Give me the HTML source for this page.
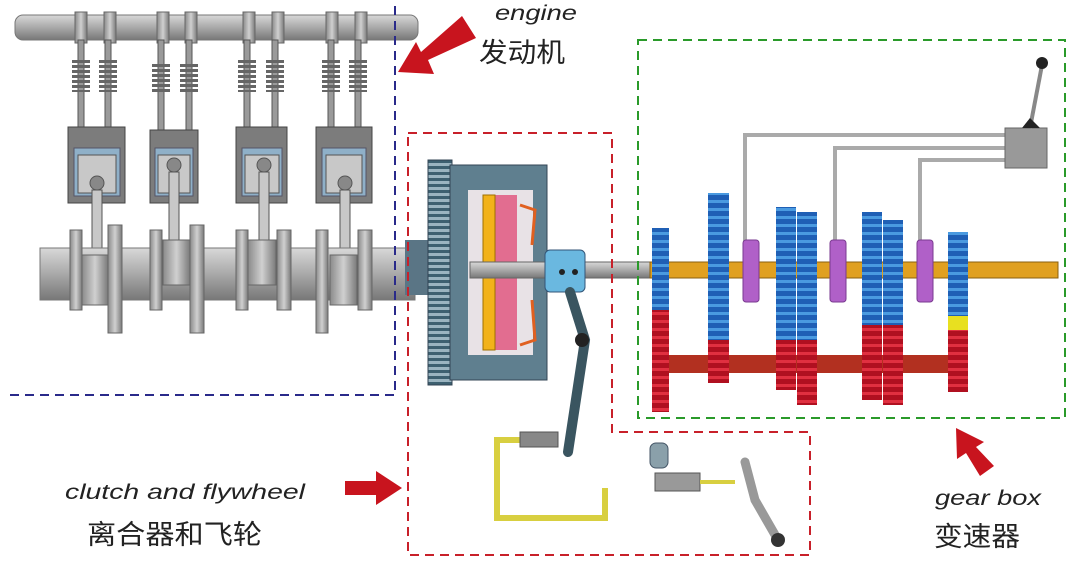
<!DOCTYPE html>
<html><head><meta charset="utf-8"><style>
html,body{margin:0;padding:0;background:#fff;width:1080px;height:572px;overflow:hidden}
svg{display:block}
text{font-family:"Liberation Sans","Noto Sans CJK SC",sans-serif}
</style></head><body>
<svg width="1080" height="572" viewBox="0 0 1080 572" xmlns="http://www.w3.org/2000/svg">
<defs>
<linearGradient id="gy" x1="0" y1="0" x2="0" y2="1"><stop offset="0" stop-color="#d8d8d8"/><stop offset=".5" stop-color="#a9a9a9"/><stop offset="1" stop-color="#777"/></linearGradient>
<linearGradient id="gx" x1="0" y1="0" x2="1" y2="0"><stop offset="0" stop-color="#8a8a8a"/><stop offset=".5" stop-color="#d0d0d0"/><stop offset="1" stop-color="#7a7a7a"/></linearGradient>
<pattern id="bt" width="6" height="8" patternUnits="userSpaceOnUse"><rect width="6" height="8" fill="#1f5fb5"/><rect y="0" width="6" height="3" fill="#4a9ae0"/></pattern>
<pattern id="rt" width="6" height="8" patternUnits="userSpaceOnUse"><rect width="6" height="8" fill="#b01020"/><rect y="0" width="6" height="3" fill="#e03040"/></pattern>
<pattern id="ft" width="6" height="6" patternUnits="userSpaceOnUse"><rect width="6" height="6" fill="#3d6070"/><rect y="1" width="6" height="3" fill="#9ab4c0"/></pattern>
</defs>
<!-- engine -->
<rect x="15" y="15" width="403" height="25" rx="8" fill="url(#gy)" stroke="#777"/>
<g fill="url(#gx)" stroke="#666">
<rect x="75" y="12" width="12" height="31"/><rect x="104" y="12" width="12" height="31"/><rect x="157" y="12" width="12" height="31"/><rect x="185" y="12" width="12" height="31"/>
<rect x="243" y="12" width="12" height="31"/><rect x="272" y="12" width="12" height="31"/><rect x="326" y="12" width="12" height="31"/><rect x="355" y="12" width="12" height="31"/>
</g>
<g fill="#9a9a9a" stroke="#555">
<rect x="78" y="40" width="6" height="90"/><rect x="105" y="40" width="6" height="90"/>
<rect x="158" y="40" width="6" height="90"/><rect x="186" y="40" width="6" height="90"/>
<rect x="244" y="40" width="6" height="90"/><rect x="272" y="40" width="6" height="90"/>
<rect x="328" y="40" width="6" height="90"/><rect x="355" y="40" width="6" height="90"/>
</g>
<g fill="none" stroke="#666" stroke-width="18" stroke-dasharray="3 2">
<path d="M81 60V92M108 60V92M161 64V92M189 64V92M247 60V92M275 60V92M331 60V92M358 60V92"/>
</g>
<g fill="#7c7c7c" stroke="#444">
<rect x="68" y="127" width="57" height="76"/><rect x="150" y="130" width="48" height="73"/><rect x="236" y="127" width="51" height="76"/><rect x="316" y="127" width="56" height="76"/>
</g>
<g fill="#8fb0c8" stroke="#556">
<rect x="74" y="148" width="46" height="48"/><rect x="155" y="148" width="38" height="48"/><rect x="242" y="148" width="40" height="48"/><rect x="322" y="148" width="44" height="48"/>
</g>
<g fill="#c8c8c8" stroke="#555">
<rect x="78" y="155" width="38" height="38"/><rect x="158" y="155" width="32" height="38"/><rect x="245" y="155" width="34" height="38"/><rect x="326" y="155" width="36" height="38"/>
<circle cx="97" cy="183" r="7" fill="#888"/><circle cx="174" cy="165" r="7" fill="#888"/><circle cx="264" cy="165" r="7" fill="#888"/><circle cx="345" cy="183" r="7" fill="#888"/>
<rect x="92" y="190" width="10" height="65"/><rect x="169" y="172" width="10" height="70"/><rect x="259" y="172" width="10" height="70"/><rect x="340" y="190" width="10" height="65"/>
</g>
<rect x="40" y="248" width="375" height="52" fill="url(#gy)" stroke="#777"/>
<g fill="url(#gx)" stroke="#666">
<rect x="70" y="230" width="12" height="80"/><rect x="108" y="225" width="14" height="108"/><rect x="82" y="255" width="26" height="50"/>
<rect x="150" y="230" width="12" height="80"/><rect x="190" y="225" width="14" height="108"/><rect x="163" y="240" width="27" height="45"/>
<rect x="236" y="230" width="12" height="80"/><rect x="277" y="230" width="14" height="80"/><rect x="248" y="240" width="28" height="45"/>
<rect x="316" y="230" width="12" height="103"/><rect x="358" y="230" width="14" height="80"/><rect x="330" y="255" width="27" height="50"/>
</g>
<!-- flywheel/clutch -->
<rect x="405" y="240" width="30" height="55" fill="#5a7585"/>
<rect x="428" y="160" width="24" height="225" fill="url(#ft)" stroke="#345"/>
<rect x="450" y="165" width="97" height="215" fill="#5f7f8f" stroke="#345"/>
<rect x="468" y="190" width="65" height="165" fill="#e8e2e6"/>
<rect x="495" y="195" width="22" height="155" fill="#e0507a" opacity=".8"/>
<rect x="483" y="195" width="12" height="155" fill="#f2b21a" stroke="#a07000"/>
<path d="M520 205 L535 210 L532 245 M520 345 L535 340 L532 300" stroke="#e06020" stroke-width="3" fill="none"/>
<rect x="470" y="262" width="180" height="16" fill="url(#gy)" stroke="#666"/>
<rect x="545" y="250" width="40" height="42" rx="5" fill="#6ab8e0" stroke="#357"/>
<circle cx="562" cy="272" r="3" fill="#222"/><circle cx="575" cy="272" r="3" fill="#222"/>
<path d="M570 292 L585 340 L568 452" stroke="#3a5560" stroke-width="10" fill="none" stroke-linecap="round"/>
<circle cx="582" cy="340" r="7" fill="#222"/>
<path d="M555 440 H497 V518 H605 V488" stroke="#d8cf40" stroke-width="6" fill="none"/>
<rect x="520" y="432" width="38" height="15" fill="#888" stroke="#555"/>
<rect x="650" y="443" width="18" height="25" rx="6" fill="#8aa0aa" stroke="#456"/>
<rect x="655" y="473" width="45" height="18" fill="#999" stroke="#555"/>
<path d="M700 482 H735" stroke="#d8cf40" stroke-width="4"/>
<path d="M745 462 L755 500 L778 540" stroke="#999" stroke-width="9" fill="none" stroke-linecap="round"/>
<circle cx="778" cy="540" r="7" fill="#333"/>
<!-- gearbox -->
<rect x="650" y="262" width="408" height="16" fill="#e0a020" stroke="#8a6010"/>
<rect x="655" y="355" width="300" height="18" fill="#b23020"/>
<g stroke="#aaa" stroke-width="4" fill="none">
<path d="M745 135 H1005 M745 133 V250 M833 148 H1005 M835 148 V250 M918 160 H1005 M920 160 V250"/>
</g>
<rect x="1005" y="128" width="42" height="40" fill="#999" stroke="#666"/>
<path d="M1030 128 L1042 65" stroke="#888" stroke-width="4"/>
<circle cx="1042" cy="63" r="6" fill="#222"/>
<path d="M1022 128 L1030 118 L1040 128Z" fill="#222"/>
<g>
<rect x="652" y="228" width="17" height="82" fill="url(#bt)"/><rect x="652" y="310" width="17" height="102" fill="url(#rt)"/>
<rect x="708" y="193" width="21" height="147" fill="url(#bt)"/><rect x="708" y="340" width="21" height="43" fill="url(#rt)"/>
<rect x="776" y="207" width="20" height="133" fill="url(#bt)"/><rect x="776" y="340" width="20" height="50" fill="url(#rt)"/>
<rect x="797" y="212" width="20" height="128" fill="url(#bt)"/><rect x="797" y="340" width="20" height="65" fill="url(#rt)"/>
<rect x="862" y="212" width="20" height="113" fill="url(#bt)"/><rect x="862" y="325" width="20" height="75" fill="url(#rt)"/>
<rect x="883" y="220" width="20" height="105" fill="url(#bt)"/><rect x="883" y="325" width="20" height="80" fill="url(#rt)"/>
<rect x="948" y="232" width="20" height="84" fill="url(#bt)"/><rect x="948" y="316" width="20" height="14" fill="#e8e020"/><rect x="948" y="330" width="20" height="62" fill="url(#rt)"/>
</g>
<g fill="#b060c8" stroke="#7a3a90">
<rect x="743" y="240" width="16" height="62" rx="3"/><rect x="830" y="240" width="16" height="62" rx="3"/><rect x="917" y="240" width="16" height="62" rx="3"/>
</g>
<!-- dashed boxes -->
<path d="M10 395 H395 V0" stroke="#2a2a8a" stroke-width="2" stroke-dasharray="9 6" fill="none"/>
<path d="M408 133 H612 V432 H810 V555 H408Z" stroke="#c8202a" stroke-width="2" stroke-dasharray="9 6" fill="none"/>
<path d="M638 40 H1065 V418 H638Z" stroke="#2a9a2a" stroke-width="2" stroke-dasharray="9 6" fill="none"/>
<!-- arrows -->
<g fill="#c8141e">
<path d="M462 16 L476 38 L428 60 L434 74 L398 72 L416 42 L421 52Z"/>
<path d="M345 481 L376 481 L376 471 L402 488 L376 505 L376 495 L345 495Z"/>
<path d="M994 466 L980 476 L966 453 L957 459 L956 428 L984 442 L976 447Z"/>
</g>
<!-- labels -->
<g fill="#222">
<text x="495" y="20" font-size="21" font-style="italic" textLength="82" lengthAdjust="spacingAndGlyphs">engine</text>
<text x="479" y="62" font-size="27" textLength="86" lengthAdjust="spacingAndGlyphs">发动机</text>
<text x="65" y="499" font-size="21" font-style="italic" textLength="240" lengthAdjust="spacingAndGlyphs">clutch and flywheel</text>
<text x="87" y="544" font-size="27" textLength="175" lengthAdjust="spacingAndGlyphs">离合器和飞轮</text>
<text x="935" y="505" font-size="21" font-style="italic" textLength="106" lengthAdjust="spacingAndGlyphs">gear box</text>
<text x="934" y="546" font-size="27" textLength="86" lengthAdjust="spacingAndGlyphs">变速器</text>
</g>
</svg>
</body></html>
